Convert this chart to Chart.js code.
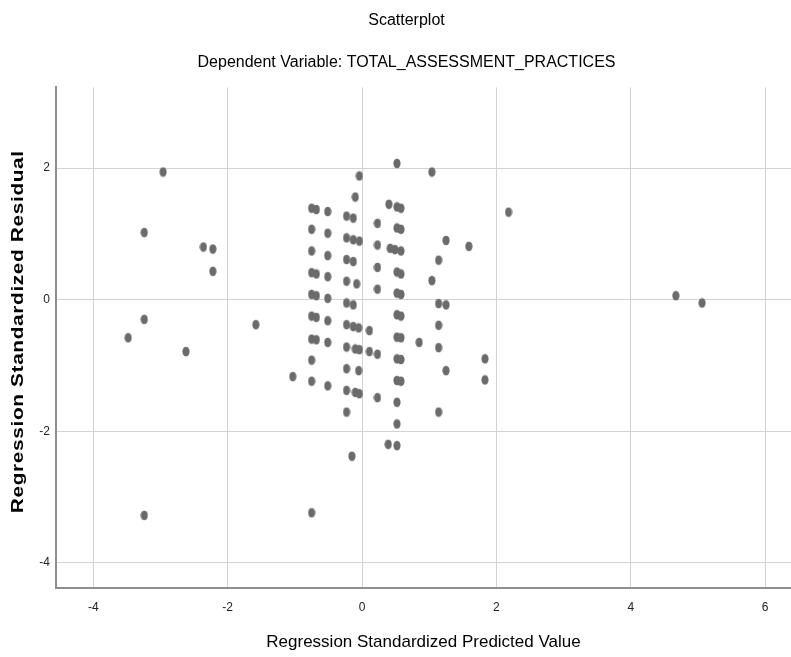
<!DOCTYPE html>
<html>
<head>
<meta charset="utf-8">
<script src="https://cdn.jsdelivr.net/npm/chart.js@4.4.0/dist/chart.umd.min.js"></script>
<style>
  html, body { margin: 0; padding: 0; background: #fff; }
</style>
</head>
<body>
<canvas id="myChart" width="791" height="657"></canvas>
<script>
// Regression Standardized Predicted Value (x) / Residual (y)
const predicted = [
  -2.96, -3.24, -2.36, -2.22, -2.22, -3.24, -3.48, -2.62, -1.58, -1.03, -3.24, -0.75,
  -0.75, -0.75, -0.75, -0.75, -0.75, -0.75, -0.75, -0.75, -0.75,
  -0.68, -0.68, -0.68, -0.68, -0.68,
  -0.51, -0.51, -0.51, -0.51, -0.51, -0.51, -0.51, -0.51,
  -0.23, -0.23, -0.23, -0.23, -0.23, -0.23, -0.23, -0.23, -0.23, -0.23,
  -0.13, -0.13, -0.13, -0.13, -0.13,
  -0.10, -0.10, -0.10,
  -0.08,
  -0.05, -0.05,
  -0.04, -0.04, -0.04, -0.04,
  -0.15,
  0.11, 0.11,
  0.23, 0.23, 0.23, 0.23, 0.23, 0.23,
  0.40, 0.42, 0.49, 0.39,
  0.52, 0.52, 0.52, 0.52, 0.52, 0.52, 0.52, 0.52, 0.52, 0.52, 0.52, 0.52,
  0.58, 0.58, 0.58, 0.58, 0.58, 0.58, 0.58, 0.58, 0.58,
  0.85,
  1.04, 1.04,
  1.14, 1.14, 1.14, 1.14, 1.14,
  1.25, 1.25, 1.25,
  1.59,
  1.83, 1.83,
  2.18,
  4.67, 5.06
];
const residuals = [
  1.94, 1.02, 0.80, 0.77, 0.43, -0.30, -0.58, -0.79, -0.38, -1.17, -3.28, -3.24,
  1.39, 1.07, 0.74, 0.41, 0.08, -0.25, -0.60, -0.92, -1.24,
  1.37, 0.39, 0.06, -0.27, -0.61,
  1.34, 1.01, 0.67, 0.35, 0.02, -0.32, -0.65, -1.31,
  1.27, 0.94, 0.61, 0.28, -0.05, -0.38, -0.72, -1.05, -1.38, -1.71,
  1.24, 0.91, 0.58, -0.08, -0.41,
  1.56, -0.75, -1.41,
  0.24,
  -0.43, -1.08,
  1.88, 0.89, -0.76, -1.43,
  -2.38,
  -0.47, -0.79,
  1.16, 0.83, 0.49, 0.16, -0.83, -1.49,
  1.45, 0.78, 0.76, -2.20,
  2.07, 1.41, 1.09, 0.42, 0.10, -0.23, -0.57, -0.90, -1.23, -1.56, -1.89, -2.22,
  1.39, 1.07, 0.74, 0.39, 0.08, -0.25, -0.58, -0.91, -1.24,
  -0.65,
  1.94, 0.29,
  0.60, -0.06, -0.39, -0.73, -1.71,
  0.90, -0.08, -1.08,
  0.81,
  -0.90, -1.22,
  1.33,
  0.06, -0.05
];
const xTicks = [-4, -2, 0, 2, 4, 6];
const yTicks = [-4, -2, 0, 2];
const yTitle = "Regression Standardized Residual";

const narrow = '"Liberation Sans Narrow", "Arial Narrow", "Liberation Sans", sans-serif';

// little oval marker like the SPSS dots
const dot = document.createElement("canvas");
dot.width = 8;
dot.height = 11;
const dctx = dot.getContext("2d");
dctx.fillStyle = "#6b6b6b";
dctx.beginPath();
dctx.ellipse(4, 5.5, 3.6, 4.8, 0, 0, Math.PI * 2);
dctx.fill();

// y title is stretched in the original, so draw it by hand
const yTitlePlugin = {
  id: "yTitle",
  afterDraw(chart) {
    const ctx = chart.ctx;
    const area = chart.chartArea;
    ctx.save();
    ctx.translate(19, (area.top + area.bottom) / 2 - 6);
    ctx.rotate(-Math.PI / 2);
    ctx.scale(1.3, 1);
    ctx.font = 'bold 16px "Liberation Sans", Arial, sans-serif';
    ctx.letterSpacing = "0.5px";
    ctx.fillStyle = "#000";
    ctx.textAlign = "center";
    ctx.textBaseline = "middle";
    ctx.fillText(yTitle, 0, 0);
    ctx.restore();
  },
};

const points = predicted.map((x, i) => ({ x: x, y: residuals[i] }));

new Chart(document.getElementById("myChart"), {
  type: "scatter",
  data: {
    datasets: [
      {
        data: points,
        pointStyle: dot,
        pointRadius: 4,
      },
    ],
  },
  plugins: [yTitlePlugin],
  options: {
    responsive: false,
    animation: false,
    // left padding pushes the titles a bit right like the original
    layout: { autoPadding: false, padding: { left: 22, right: 0 } },
    plugins: {
      legend: { display: false },
      tooltip: { enabled: false },
      title: {
        display: true,
        text: "Scatterplot",
        color: "#000",
        font: { family: narrow, size: 16, weight: "normal" },
        padding: { top: 11, bottom: 23 },
      },
      subtitle: {
        display: true,
        text: "Dependent Variable: TOTAL_ASSESSMENT_PRACTICES",
        color: "#000",
        font: { family: narrow, size: 16 },
        padding: { top: 0, bottom: 15 },
      },
    },
    scales: {
      x: {
        type: "linear",
        min: -4.554,
        max: 6.384,
        afterBuildTicks: (s) => {
          s.ticks = xTicks.map((v) => ({ value: v }));
        },
        afterFit: (s) => {
          s.height = 69;
        },
        grid: { color: "#d2d2d2", drawTicks: false },
        border: { color: "#8e8e8e", width: 2 },
        ticks: { color: "#222", font: { family: narrow, size: 12 }, padding: 12 },
        title: {
          display: true,
          text: "Regression Standardized Predicted Value",
          color: "#000",
          font: { family: narrow, size: 17 },
          padding: { top: 0, bottom: 4 },
        },
      },
      y: {
        type: "linear",
        min: -4.384,
        max: 3.227,
        afterBuildTicks: (s) => {
          s.ticks = yTicks.map((v) => ({ value: v }));
        },
        afterFit: (s) => {
          s.width = 34;
        },
        grid: { color: "#d2d2d2", drawTicks: false },
        border: { color: "#8e8e8e", width: 2 },
        ticks: { color: "#222", font: { family: narrow, size: 12 }, padding: 6 },
        title: { display: false },
      },
    },
  },
});
</script>
</body>
</html>
